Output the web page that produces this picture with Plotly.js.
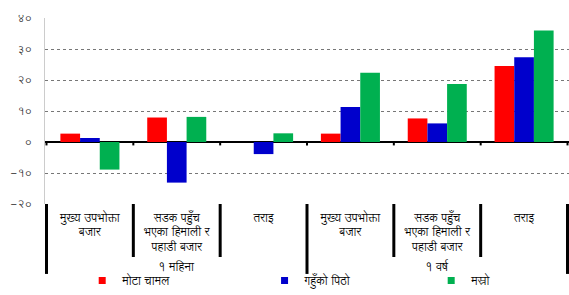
<!DOCTYPE html>
<html>
<head>
<meta charset="utf-8">
<script src="https://cdn.plot.ly/plotly-3.0.1.min.js"></script>
<style>html,body{margin:0;padding:0;background:#fff;}#chart{width:569px;height:295px;}</style>
</head>
<body>
<div id="chart"></div>
<script>
const periods = ['१ महिना','१ महिना','१ महिना','१ वर्ष','१ वर्ष','१ वर्ष'];
const markets = ['मुख्य उपभोक्ता<br>बजार','सडक पहुँच<br>भएका हिमाली र<br>पहाडी बजार','तराइ','मुख्य उपभोक्ता<br>बजार','सडक पहुँच<br>भएका हिमाली र<br>पहाडी बजार','तराइ'];
const seriesNames = ['मोटा चामल','गहुँको पिठो','मस्रो'];
const rice  = [2.7, 7.9, 0, 2.7, 7.6, 24.5];
const flour = [1.3, -13.1, -3.9, 11.3, 6.0, 27.3];
const lentil= [-8.9, 8.1, 2.8, 22.3, 18.7, 36.0];
const tickVals = [-20,-10,0,10,20,30,40];
const tickText = ['-२०','-१०','०','१०','२०','३०','४०'];
const colors = ['#FF0000','#0000CC','#00B050'];
const font = '"Lohit Devanagari", "Noto Serif Devanagari", "Noto Sans Devanagari", "Noto Sans", sans-serif';

const xKeys = markets.map((m,i)=> periods[i] + '|' + m);
const legendIds = ['legend','legend2','legend3'];
const data = [];
[rice, flour, lentil].forEach((v,i)=>{
  data.push({type:'bar', x:xKeys, y:v, name:seriesNames[i], showlegend:false,
    marker:{color:colors[i], line:{width:0}}});
});
seriesNames.forEach((n,i)=>{
  data.push({type:'scatter', mode:'markers', x:[xKeys[0]], y:[null], name:n,
    legend:legendIds[i], marker:{symbol:'square', size:7, color:colors[i]}, hoverinfo:'skip'});
});

const shapes = [];
for (let i = 0; i <= markets.length; i++) {
  const b = i - 0.5;
  shapes.push({type:'line', xref:'x', yref:'y', x0:b, x1:b, y0:0, y1:-1.1,
               line:{color:'#000', width:2}});
  const outer = (i === 0 || i === markets.length || periods[i] !== periods[i-1]);
  shapes.push({type:'line', xref:'x', yref:'paper', x0:b, x1:b, y0:0, y1: outer ? -0.376 : -0.285,
               line:{color:'#000', width:3}});
}
const annotations = [];
[...new Set(periods)].forEach(p=>{
  const idx = periods.map((q,i)=> q===p ? i : -1).filter(i=>i>=0);
  const c = (idx[0] + idx[idx.length-1]) / 2;
  annotations.push({xref:'x', yref:'paper', x:c, y:-0.342, yanchor:'middle', xanchor:'center',
    text:p, showarrow:false, font:{size:11.5, color:'#000'}});
});

const legendBase = {orientation:'h', yref:'container', yanchor:'bottom', y:0, xanchor:'left',
  font:{size:11.5, color:'#000'}, itemwidth:30, bgcolor:'rgba(0,0,0,0)'};
const layout = {
  width:569, height:295,
  margin:{l:45, r:0, t:18, b:91},
  paper_bgcolor:'#fff', plot_bgcolor:'#fff',
  font:{family:font, size:11, color:'#333'},
  barmode:'group', bargap:0.32, bargroupgap:0,
  showlegend:true,
  legend: Object.assign({}, legendBase, {x:0.071}),
  legend2: Object.assign({}, legendBase, {x:0.419}),
  legend3: Object.assign({}, legendBase, {x:0.737}),
  xaxis:{type:'category', automargin:false, showgrid:false, showline:false, zeroline:false,
         tickvals:xKeys, ticktext:markets, ticks:'', ticklabelstandoff:5,
         tickfont:{size:11.5, color:'#000'}},
  yaxis:{range:[-20,40], automargin:false, tickvals:tickVals, ticktext:tickText, showgrid:true,
         gridcolor:'#777', griddash:'dot', gridwidth:1,
         showline:true, linecolor:'#ccc', linewidth:1,
         zeroline:true, zerolinecolor:'#000', zerolinewidth:2.5,
         ticks:'', ticklabelstandoff:10, tickfont:{size:11, color:'#333'}},
  shapes:shapes, annotations:annotations
};
Plotly.newPlot('chart', data, layout, {displayModeBar:false, staticPlot:true});
</script>
</body>
</html>
